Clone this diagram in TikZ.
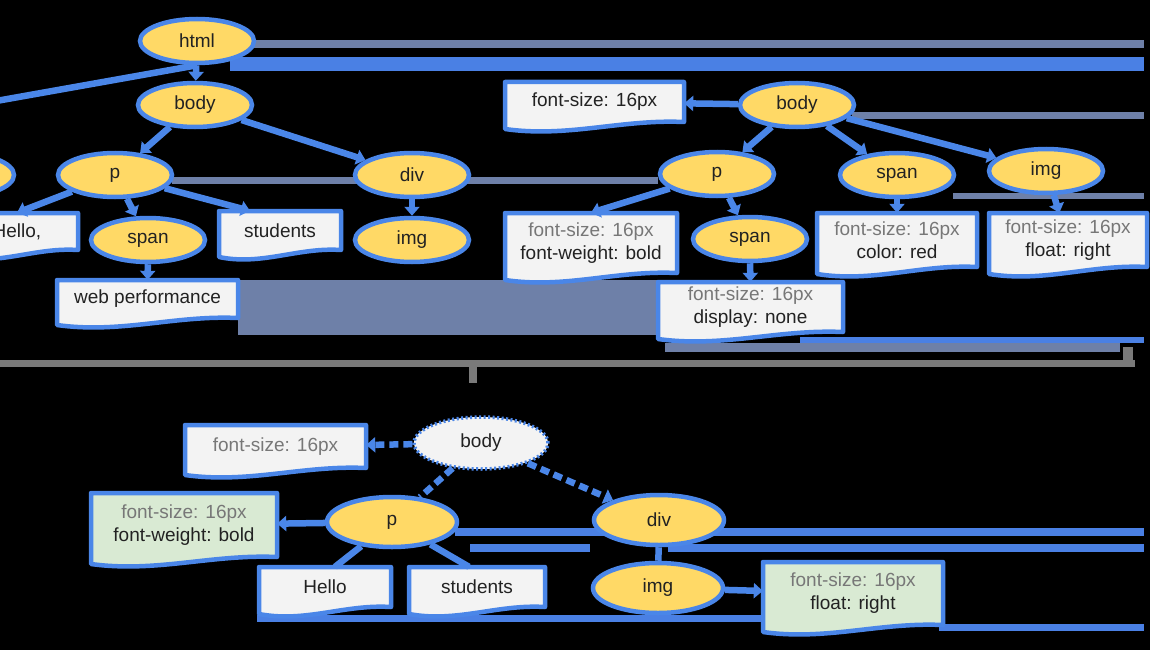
\documentclass[tikz,border=0pt]{standalone}
\usepackage{fontspec}
\setmainfont{Liberation Sans}
\usetikzlibrary{arrows.meta,shapes.geometric,calc}
\definecolor{gblue}{HTML}{4A86E8}
\definecolor{gyel}{HTML}{FFD966}
\definecolor{gbox}{HTML}{F3F3F3}
\definecolor{ggreen}{HTML}{D9EAD3}
\definecolor{gtext}{HTML}{222222}
\definecolor{ggrey}{HTML}{777777}
\definecolor{sblue}{HTML}{4A80E4}
\definecolor{sgrey}{HTML}{6E80A8}
\definecolor{lgrey}{HTML}{7A7A7A}
\tikzset{
  el/.style={ellipse, draw=gblue, fill=gyel, line width=4.5pt, minimum width=114pt, minimum height=44pt, inner sep=0pt, font=\fontsize{19}{22}\selectfont, text=gtext},
  elb/.style={el, minimum width=130pt, minimum height=50pt},
  eldot/.style={el, fill=gbox, minimum width=134pt, minimum height=52pt, line width=3.5pt, dash pattern=on 2pt off 2.5pt},
  docnode/.style={rectangle, draw=none, inner sep=0pt, align=center, font=\fontsize{19}{23}\selectfont, text=gtext},
  conn/.style={draw=gblue, line width=6.5pt, -{Triangle[length=9pt,width=15pt]}},
  plain/.style={draw=gblue, line width=6.5pt},
  dconn/.style={conn, dash pattern=on 9pt off 5pt},
  dplain/.style={plain, dash pattern=on 9pt off 5pt},
  stripe/.style={fill=sgrey},
  bstripe/.style={fill=sblue},
}
\newcommand\docbox[7]{%
  \pgfmathsetmacro\dw{#4-#2}%
  \pgfmathsetmacro\dhh{#5-#3-10}%
  \filldraw[fill=#6, draw=gblue, line width=4.5pt, line join=round]
    (#2,#3) -- (#4,#3) -- (#4,#5-10) .. controls (#4-0.35*\dw,#5-13) and (#2+0.35*\dw,#5+6) .. (#2,#5-3) -- cycle;
  \node[docnode, minimum width=\dw pt, minimum height=\dhh pt] (#1) at ({(#2+#4)/2},{(#3+#5-10)/2}) {#7};
}
\newcommand\gr[1]{\textcolor{ggrey}{#1}}
\begin{document}
\begin{tikzpicture}[x=1pt,y=-1pt]
\useasboundingbox (0,0) rectangle (1150,650);
\clip (0,0) rectangle (1150,650);
\fill[black] (0,0) rectangle (1150,650);
% background stripes
\path[stripe] (253,40) rectangle (1144,48);
\path[bstripe] (230,57) rectangle (1144,71);
\path[stripe] (852,112) rectangle (1144,119);
\path[stripe] (172,177) rectangle (658,184);
\path[stripe] (953,193) rectangle (1144,199);
\path[stripe] (238,280) rectangle (658,335);
\path[stripe] (665,343) rectangle (1120,352);
\path[bstripe] (800,337) rectangle (1144,343);
\path[bstripe] (455,528) rectangle (1144,536);
\path[bstripe] (470,544) rectangle (590,552);
\path[bstripe] (668,544) rectangle (1144,552);
\path[bstripe] (257,615) rectangle (763,622);
\path[bstripe] (939,624) rectangle (1144,631);
% grey bracket
\path[fill=lgrey] (0,360) rectangle (1135,367);
\path[fill=lgrey] (1123,347) rectangle (1133,367);
\path[fill=lgrey] (469,360) rectangle (477,383);

% ---------- DOM ----------
\node[el] (html) at (197,41) {html};
\node[el] (dbody) at (195,105) {body};
\node[el] (dp) at (115,175) {p};
\node[el] (ddiv) at (412,175) {div};
\node[el] (dspan) at (148,240) {span};
\node[el] (dimg) at (412,240) {img};
\node[el] (dlink) at (-43,175) {};
\coordinate (headc) at (-60,111);
\docbox{hello}{-44}{213}{78}{260}{gbox}{Hello,}
\docbox{dstud}{219}{211}{341}{260}{gbox}{students}
\docbox{web}{57}{280}{238}{328}{gbox}{web performance}
\draw[plain] (html.south) -- (headc);
\draw[conn] (html) -- (dbody);
\draw[conn] (dbody) -- (dp);
\draw[conn] (dbody) -- (ddiv);
\draw[conn] (dp) -- (hello.north);
\draw[conn] (dp) -- (dspan);
\draw[conn] (dp) -- ([xshift=-30pt]dstud.north);
\draw[conn] (dspan) -- (web);
\draw[conn] (ddiv) -- (dimg);

% ---------- CSSOM ----------
\node[el] (cbody) at (797,105) {body};
\node[el] (cp) at (717,174) {p};
\node[el] (cspan) at (897,175) {span};
\node[el] (cimg) at (1046,171) {img};
\node[el] (cspan2) at (750,239) {span};
\docbox{cfs}{505}{82}{684}{132}{gbox}{font-size: 16px}
\docbox{cbold}{505}{213}{677}{283}{gbox}{\gr{font-size: 16px}\\font-weight: bold}
\docbox{cdisp}{658}{282}{843}{342}{gbox}{\gr{font-size: 16px}\\display: none}
\docbox{ccolor}{817}{213}{977}{277}{gbox}{\gr{font-size: 16px}\\color: red}
\docbox{cfloat}{989}{213}{1147}{277}{gbox}{\gr{font-size: 16px}\\float: right}
\draw[conn] (cbody) -- (cfs);
\draw[conn] (cbody) -- (cp);
\draw[conn] (cbody) -- (cspan);
\draw[conn] (cbody) -- (cimg);
\draw[conn] (cp) -- (cbold.north);
\draw[conn] (cp) -- (cspan2);
\draw[conn] (cspan2) -- (cdisp);
\draw[conn] (cspan) -- (ccolor);
\draw[conn] (cimg) -- (cfloat);

% ---------- Render tree ----------
\node[eldot] (rbody) at (481,443) {body};
\node[elb] (rp) at (392,522) {p};
\node[elb] (rdiv) at (659,520) {div};
\node[elb] (rimg) at (658,588) {img};
\docbox{rfs}{185}{425}{366}{478}{gbox}{\gr{font-size: 16px}}
\docbox{rbold}{91}{493}{277}{567}{ggreen}{\gr{font-size: 16px}\\font-weight: bold}
\docbox{rhello}{259}{567}{391}{617}{gbox}{Hello}
\docbox{rstud}{409}{567}{545}{617}{gbox}{students}
\docbox{rfloat}{763}{562}{943}{635}{ggreen}{\gr{font-size: 16px}\\float: right}
\draw[dconn] (rbody) -- (rfs);
\draw[dplain] (rbody) -- (rp);
\draw[dconn] (rbody) -- (rdiv);
\draw[conn] (rp) -- (rbold);
\draw[plain] (rp) -- ([xshift=10pt]rhello.north);
\draw[plain] (rp) -- ([xshift=-8pt]rstud.north);
\draw[plain] (rdiv) -- (rimg);
\draw[conn] (rimg) -- (rfloat);
\end{tikzpicture}
\end{document}
